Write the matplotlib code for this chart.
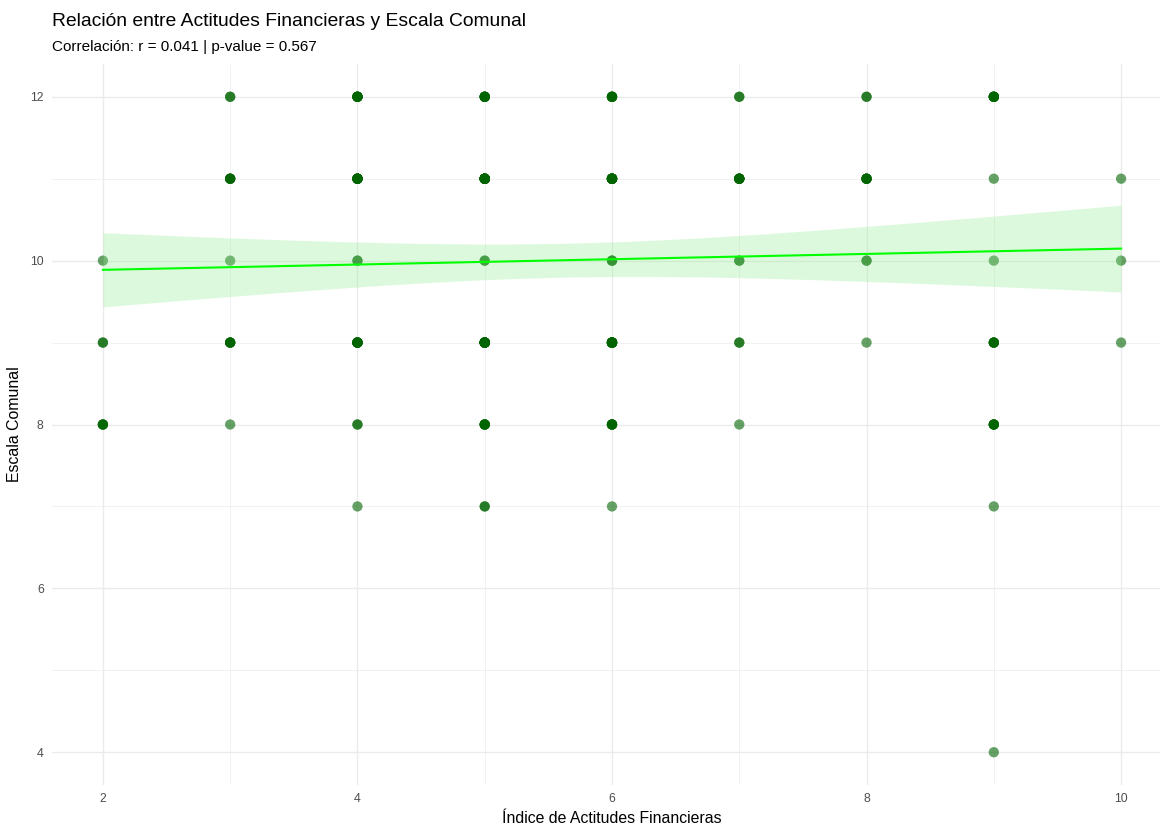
import math
import numpy as np
import matplotlib
matplotlib.use("Agg")
import matplotlib.pyplot as plt

# ---- data: (x, y, count) cells ----
cell_x = [2, 2, 2,
          3, 3, 3, 3, 3,
          4, 4, 4, 4, 4, 4,
          5, 5, 5, 5, 5, 5,
          6, 6, 6, 6, 6, 6,
          7, 7, 7, 7, 7,
          8, 8, 8, 8,
          9, 9, 9, 9, 9, 9, 9,
          10, 10, 10]
cell_y = [10, 9, 8,
          12, 11, 10, 9, 8,
          12, 11, 10, 9, 8, 7,
          12, 11, 10, 9, 8, 7,
          12, 11, 10, 9, 8, 7,
          12, 11, 10, 9, 8,
          12, 11, 10, 9,
          12, 11, 10, 9, 8, 7, 4,
          11, 10, 9]
cell_n = [1, 2, 4,
          2, 5, 1, 5, 1,
          8, 10, 2, 11, 2, 1,
          7, 16, 2, 17, 6, 2,
          6, 15, 3, 14, 6, 1,
          2, 8, 2, 2, 1,
          2, 6, 2, 1,
          7, 1, 1, 5, 5, 1, 1,
          1, 1, 1]

title = "Relación entre Actitudes Financieras y Escala Comunal"
x_label = "Índice de Actitudes Financieras"
y_label = "Escala Comunal"
x_ticks = [2, 4, 6, 8, 10]
y_ticks = [4, 6, 8, 10, 12]

x = np.repeat(cell_x, cell_n).astype(float)
y = np.repeat(cell_y, cell_n).astype(float)
n = len(x)

# ---- linear model (as geom_smooth(method="lm")) ----
xbar, ybar = x.mean(), y.mean()
sxx = ((x - xbar) ** 2).sum()
sxy = ((x - xbar) * (y - ybar)).sum()
slope = sxy / sxx
icpt = ybar - slope * xbar
resid = y - (icpt + slope * x)
df = n - 2
s = math.sqrt((resid ** 2).sum() / df)
r = sxy / math.sqrt(sxx * ((y - ybar) ** 2).sum())


def t_pdf(t, k):
    c = math.exp(math.lgamma((k + 1) / 2) - math.lgamma(k / 2)) / math.sqrt(k * math.pi)
    return c * (1 + t * t / k) ** (-(k + 1) / 2)


def t_cdf(t, k):
    grid = np.linspace(0, abs(t), 4001)
    vals = np.array([t_pdf(g, k) for g in grid])
    area = np.trapezoid(vals, grid)
    return 0.5 + area if t >= 0 else 0.5 - area


def t_quant(p, k):
    lo, hi = 0.0, 10.0
    for _ in range(60):
        mid = (lo + hi) / 2
        if t_cdf(mid, k) < p:
            lo = mid
        else:
            hi = mid
    return (lo + hi) / 2


tstat = r * math.sqrt(df) / math.sqrt(1 - r * r)
pval = 2 * (1 - t_cdf(abs(tstat), df))
tq = t_quant(0.975, df)

xs = np.linspace(x.min(), x.max(), 80)
fit = icpt + slope * xs
se = s * np.sqrt(1 / n + (xs - xbar) ** 2 / sxx)
lo_b, hi_b = fit - tq * se, fit + tq * se

# ---- figure ----
plt.rcParams["font.family"] = ["Liberation Sans", "DejaVu Sans"]
W, H = 1160, 825
fig = plt.figure(figsize=(W / 100, H / 100), dpi=100)
fig.patch.set_facecolor("white")
ax = fig.add_axes([52 / W, (H - 785) / H, 1120 / W, 721 / H])
ax.set_xlim(1.6, 10.4)
ax.set_ylim(3.6, 12.4)
ax.set_facecolor("white")
for sp in ax.spines.values():
    sp.set_visible(False)

ax.set_xticks(x_ticks)
ax.set_yticks(y_ticks)
ax.set_xticks([3, 5, 7, 9], minor=True)
ax.set_yticks([5, 7, 9, 11], minor=True)
ax.grid(True, which="major", color="#EBEBEB", linewidth=1.0, zorder=0)
ax.grid(True, which="minor", color="#EBEBEB", linewidth=0.5, zorder=0)
ax.set_axisbelow(True)
ax.tick_params(which="both", length=0)
ax.tick_params(axis="both", labelsize=8.8, labelcolor="#4D4D4D", pad=6)

ax.scatter(x, y, s=55, color="#006400", alpha=0.6, edgecolors="none", zorder=2)
ax.fill_between(xs, lo_b, hi_b, color="#90EE90", alpha=0.3, linewidth=0, zorder=3)
ax.plot(xs, fit, color="#00FF00", linewidth=1.5, zorder=4)

ax.set_xlabel(x_label, fontsize=11.4, color="black", labelpad=4)
ax.set_ylabel(y_label, fontsize=11.4, color="black", labelpad=6)

fig.text(52 / W, 1 - 22 / H, title, fontsize=13.85, ha="left", va="center", color="black")
fig.text(52 / W, 1 - 47 / H,
         f"Correlación: r = {r:.3f} | p-value = {pval:.3f}",
         fontsize=11, ha="left", va="center", color="black")

fig.savefig("out.png", dpi=100, facecolor="white")
